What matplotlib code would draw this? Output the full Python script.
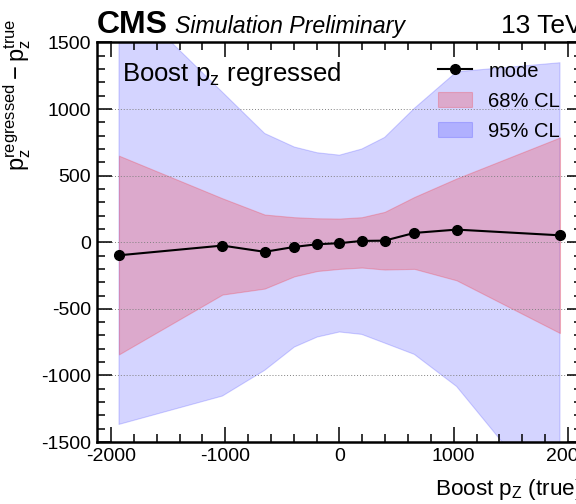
import matplotlib
matplotlib.use("Agg")
import matplotlib.pyplot as plt
from matplotlib.ticker import MultipleLocator

plt.rcParams['font.family'] = ['Liberation Sans', 'DejaVu Sans']
plt.rcParams['mathtext.fontset'] = 'custom'
plt.rcParams['mathtext.rm'] = 'Liberation Sans'
plt.rcParams['mathtext.it'] = 'Liberation Sans'
plt.rcParams['mathtext.default'] = 'regular'
plt.rcParams['axes.unicode_minus'] = False

# boost pz bins (true)
pz_true = [-1930, -1025, -655, -395, -195, 0, 195, 395, 655, 1025, 1930]
mode = [-98, -25, -72, -35, -15, -7, 10, 12, 70, 95, 52]
up68 = [650, 330, 208, 188, 180, 178, 188, 228, 340, 479, 787]
lo68 = [-842, -393, -348, -256, -216, -200, -190, -205, -200, -286, -682]
up95 = [1885, 1127, 817, 715, 672, 654, 700, 787, 1005, 1280, 1348]
lo95 = [-1368, -1155, -962, -787, -712, -674, -692, -757, -842, -1083, -2030]

fig = plt.figure(figsize=(5.76, 5.04), dpi=100)
ax = fig.add_axes([0.1679, 0.123, 0.843, 0.7927])

ax.fill_between(pz_true, lo95, up95, color=(0, 0, 1), alpha=0.17, lw=0.8, label='95% CL')
ax.fill_between(pz_true, lo68, up68, color=(1, 0, 0), alpha=0.2, lw=0.8, label='68% CL')
ax.plot(pz_true, mode, 'o-', color='black', lw=1.5, ms=7, label='mode')

ax.set_xlim(-2125, 2125)
ax.set_ylim(-1500, 1500)
ax.xaxis.set_major_locator(MultipleLocator(1000))
ax.xaxis.set_minor_locator(MultipleLocator(200))
ax.yaxis.set_major_locator(MultipleLocator(500))
ax.yaxis.set_minor_locator(MultipleLocator(100))
ax.tick_params(which='both', direction='in', top=True, right=True, labelsize=14, width=1.1)
ax.tick_params(which='major', length=10.8, pad=4)
ax.tick_params(which='minor', length=5.8)
for s in ax.spines.values():
    s.set_linewidth(1.8)
ax.yaxis.grid(True, which='major', color='gray', ls=(0, (1, 2)), lw=0.7)

ax.set_xlabel(r'Boost $\mathrm{p}_{Z}$ (true)', fontsize=16.2, loc='right')
ax.xaxis.set_label_coords(1.0, -0.088)
ax.set_ylabel(r'$\mathrm{p}_{z}^{regressed} - \mathrm{p}_{z}^{true}$', fontsize=17, loc='top')
ax.yaxis.set_label_coords(-0.131, 1.061)

ax.text(0.0, 1.024, 'CMS', transform=ax.transAxes, fontsize=23, fontweight='bold', va='baseline')
ax.text(0.161, 1.024, 'Simulation Preliminary', transform=ax.transAxes, fontsize=16.7,
        style='italic', va='baseline')
ax.text(1.0, 1.024, '13 TeV', transform=ax.transAxes, fontsize=19, ha='right', va='baseline')
ax.text(0.052, 0.904, r'Boost $\mathrm{p}_{z}$ regressed', transform=ax.transAxes, fontsize=18.5,
        va='baseline')

h, l = ax.get_legend_handles_labels()
order = [2, 1, 0]
ax.legend([h[i] for i in order], [l[i] for i in order], loc='upper left',
          bbox_to_anchor=(0.703, 0.952), frameon=False, fontsize=14.5, borderpad=0,
          borderaxespad=0, labelspacing=0.55, handlelength=1.7, handleheight=0.75,
          handletextpad=0.8)

fig.savefig('out.png', dpi=100)
